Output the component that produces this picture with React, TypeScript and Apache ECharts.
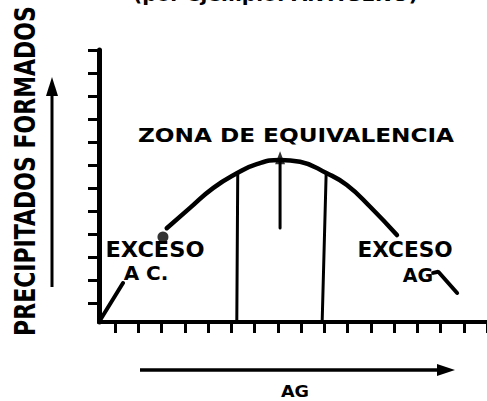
import { useEffect, useRef } from "react";
import * as echarts from "echarts";

// Main precipitation curve (zone of equivalence) in AG units (x) and precipitate units (y)
const curveX = [2.88, 3.87, 4.85, 5.86, 6.71, 7.7, 8.55, 9.69, 10.54, 11.53, 12.67];
const curveY = [4.07, 4.95, 5.81, 6.45, 6.85, 7.03, 6.95, 6.45, 5.94, 5.0, 3.77];
// Antibody excess start segment
const startX = [0, 1.02];
const startY = [0, 1.69];
// ink blot near "EXCESO"
const blotX = [2.72];
const blotY = [3.69];
// Antigen excess tail
const tailX = [14.21, 14.43, 15.23];
const tailY = [2.13, 2.18, 1.26];
// Zone boundaries
const zoneLeftX = [5.86, 5.9];
const zoneLeftY = [0, 6.45];
const zoneRightX = [9.49, 9.66];
const zoneRightY = [0, 6.45];
// Equivalence arrow
const arrowX = [7.7, 7.7];
const arrowY = [4.08, 7.0];
const arrowHeadX = [7.7];
const arrowHeadY = [7.13];
// Tick counts
const xTickMax = 16;
const yTickMax = 11;
// Texts
const yTitle = "PRECIPITADOS FORMADOS";
const xTitle = "AG";
const zoneText = "ZONA DE EQUIVALENCIA";
const leftExcess = ["EXCESO", "A C."];
const rightExcess = ["EXCESO", "AG"];
const topText = "(por ejemplo: ANTIGENO)";

const zip = (xs: number[], ys: number[]) => xs.map((x, i) => [x, ys[i]]);

const FONT = '"DejaVu Sans", "Noto Sans", sans-serif';

function txt(text: string, x: number, y: number, size: number, extra: any = {}) {
  return {
    type: "text",
    x,
    y,
    ...extra,
    style: {
      text,
      font: `bold ${size}px ${FONT}`,
      fill: "#000",
      textAlign: extra.align || "center",
      textVerticalAlign: "middle",
      align: extra.align || "center",
      verticalAlign: "middle",
    },
  };
}

export default function App() {
  const ref = useRef<HTMLDivElement>(null);
  useEffect(() => {
    document.body.style.margin = "0";
    const chart = echarts.init(ref.current!, undefined, { renderer: "svg" });
    const black = "#000";
    const lineSeries = (data: number[][], width: number, smooth = false) => ({
      type: "line",
      xAxisIndex: 0,
      yAxisIndex: 0,
      data,
      smooth,
      symbol: "none",
      lineStyle: { color: black, width, cap: "round" },
      itemStyle: { color: black },
      silent: true,
    });
    chart.setOption({
      animation: false,
      backgroundColor: "#fff",
      grid: [
        { left: 99, right: 0, top: 50, bottom: 79 },
        { left: 115, right: -4, top: 50, bottom: 79 },
        { left: 99, right: 0, top: 50, bottom: 98 },
      ],
      xAxis: [
        {
          gridIndex: 0, type: "value", min: 0, max: 16.5,
          axisLine: { show: true, lineStyle: { color: black, width: 4 } },
          axisTick: { show: false }, axisLabel: { show: false }, splitLine: { show: false },
        },
        {
          gridIndex: 1, type: "value", min: 0, max: xTickMax, interval: 1,
          axisLine: { show: false },
          axisTick: { show: true, length: 11, lineStyle: { color: black, width: 3 } },
          axisLabel: { show: false }, splitLine: { show: false },
        },
        { gridIndex: 2, type: "value", min: 0, max: 1, show: false },
      ],
      yAxis: [
        {
          gridIndex: 0, type: "value", min: 0, max: 11.8,
          axisLine: { show: true, lineStyle: { color: black, width: 5 } },
          axisTick: { show: false }, axisLabel: { show: false }, splitLine: { show: false },
        },
        { gridIndex: 1, type: "value", min: 0, max: 1, show: false },
        {
          gridIndex: 2, type: "value", min: 0, max: yTickMax, interval: 1,
          axisLine: { show: false },
          axisTick: { show: true, length: 11, lineStyle: { color: black, width: 3 } },
          axisLabel: { show: false }, splitLine: { show: false },
        },
      ],
      series: [
        lineSeries(zip(startX, startY), 4),
        lineSeries(zip(curveX, curveY), 4.5, true),
        lineSeries(zip(tailX, tailY), 4),
        lineSeries(zip(zoneLeftX, zoneLeftY), 3),
        lineSeries(zip(zoneRightX, zoneRightY), 3),
        lineSeries(zip(arrowX, arrowY), 3),
        {
          type: "scatter", xAxisIndex: 0, yAxisIndex: 0,
          data: zip(blotX, blotY), symbol: "circle", symbolSize: 11,
          itemStyle: { color: black }, silent: true,
        },
        {
          type: "scatter", xAxisIndex: 0, yAxisIndex: 0,
          data: zip(arrowHeadX, arrowHeadY), symbol: "triangle", symbolSize: [10, 13],
          itemStyle: { color: black }, silent: true,
        },
      ],
      graphic: [
        txt(topText, 418, -6, 20, { align: "right" }),
        txt(yTitle, 26, 171, 22, { rotation: Math.PI / 2, scaleY: 1.25 }),
        txt(zoneText, 296, 135, 20, { scaleX: 1.16 }),
        txt(leftExcess[0], 155, 250, 21, { scaleX: 1.07 }),
        txt(leftExcess[1], 146, 273, 20),
        txt(rightExcess[0], 405, 250, 21, { scaleX: 1.03 }),
        txt(rightExcess[1], 418, 275, 19),
        txt(xTitle, 295, 391, 16, { scaleX: 1.1 }),
        { type: "line", shape: { x1: 52, y1: 287, x2: 52, y2: 90 }, style: { stroke: black, lineWidth: 3 } },
        { type: "polygon", shape: { points: [[46, 96], [52, 77], [58, 96]] }, style: { fill: black } },
        { type: "line", shape: { x1: 140, y1: 370, x2: 442, y2: 370 }, style: { stroke: black, lineWidth: 3.5 } },
        { type: "polygon", shape: { points: [[437, 364], [455, 370], [437, 376]] }, style: { fill: black } },
      ],
    });
    return () => chart.dispose();
  }, []);
  return <div ref={ref} style={{ width: 487, height: 401 }} />;
}
